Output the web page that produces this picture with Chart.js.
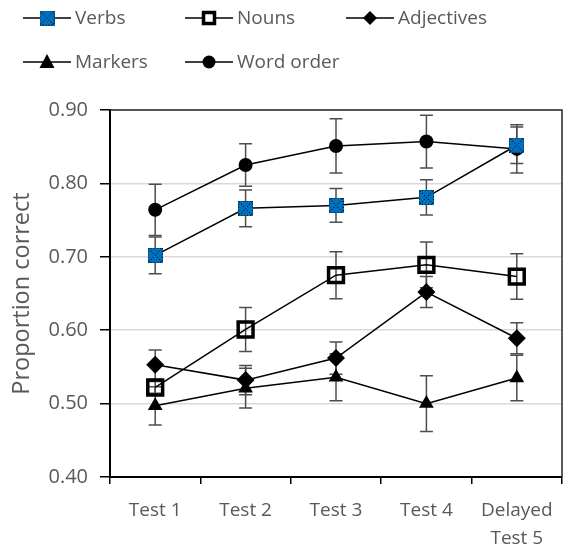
<!DOCTYPE html>
<html>
<head>
<meta charset="utf-8">
<script src="https://cdn.jsdelivr.net/npm/chart.js@4/dist/chart.umd.min.js"></script>
<style>
  html, body { margin: 0; padding: 0; background: #fff; }
  #wrap { width: 576px; height: 548px; position: relative; }
</style>
</head>
<body>
<div id="wrap"><canvas id="chart"></canvas></div>
<script>
const labels = ['Test 1', 'Test 2', 'Test 3', 'Test 4', ['Delayed', 'Test 5']];

const verbs = [0.702, 0.766, 0.770, 0.781, 0.852];
const verbsErr = [0.025, 0.025, 0.023, 0.024, 0.025];
const nouns = [0.522, 0.601, 0.675, 0.689, 0.673];
const nounsErr = [0.008, 0.030, 0.032, 0.031, 0.031];
const adjectives = [0.553, 0.532, 0.562, 0.652, 0.589];
const adjectivesErr = [0.020, 0.020, 0.022, 0.021, 0.021];
const markers = [0.497, 0.521, 0.536, 0.500, 0.535];
const markersErr = [0.026, 0.027, 0.032, 0.038, 0.031];
const wordOrder = [0.764, 0.825, 0.851, 0.857, 0.847];
const wordOrderErr = [0.035, 0.029, 0.037, 0.036, 0.033];

const FONT = "'Open Sans', sans-serif";
const GREY = '#595959';

// blue square with the dotted pattern used for Verbs
function verbsImage(size) {
    const c = document.createElement('canvas');
    c.width = size; c.height = size;
    const g = c.getContext('2d');
    g.fillStyle = '#0070C0';
    g.fillRect(0, 0, size, size);
    g.fillStyle = '#111';
    for (let i = 1; i < size - 1; i += 2) {
        g.fillRect(i, i, 1, 1);
        g.fillRect(size - 1 - i, i, 1, 1);
    }
    for (let i = 0; i < size; i += 3) {
        g.fillRect(i, 0, 1, 1);
        g.fillRect(i, size - 1, 1, 1);
        g.fillRect(0, i, 1, 1);
        g.fillRect(size - 1, i, 1, 1);
    }
    return c;
}
const verbsPoint = verbsImage(15);
const verbsLegend = verbsImage(15);

const errors = [verbsErr, nounsErr, adjectivesErr, markersErr, wordOrderErr];

// error bars, drawn under the markers
const errorBars = {
    id: 'errorBars',
    beforeDatasetsDraw(chart) {
        const ctx = chart.ctx;
        const y = chart.scales.y;
        ctx.save();
        ctx.strokeStyle = '#4d4d4d';
        ctx.lineWidth = 1.5;
        chart.data.datasets.forEach((ds, i) => {
            const meta = chart.getDatasetMeta(i);
            meta.data.forEach((pt, j) => {
                const v = ds.data[j], e = errors[i][j];
                const top = y.getPixelForValue(v + e);
                const bot = y.getPixelForValue(v - e);
                ctx.beginPath();
                ctx.moveTo(pt.x, top); ctx.lineTo(pt.x, bot);
                ctx.moveTo(pt.x - 6.5, top); ctx.lineTo(pt.x + 6.5, top);
                ctx.moveTo(pt.x - 6.5, bot); ctx.lineTo(pt.x + 6.5, bot);
                ctx.stroke();
            });
        });
        ctx.restore();
    }
};

// top and right edges of the plot box
const plotBorder = {
    id: 'plotBorder',
    afterDatasetsDraw(chart) {
        const a = chart.chartArea;
        const ctx = chart.ctx;
        ctx.save();
        ctx.strokeStyle = '#262626';
        ctx.lineWidth = 1.5;
        ctx.beginPath();
        ctx.moveTo(a.left, a.top);
        ctx.lineTo(a.right, a.top);
        ctx.lineTo(a.right, a.bottom);
        ctx.stroke();
        ctx.restore();
    }
};

function drawSymbol(ctx, style, x, y) {
    ctx.fillStyle = '#000';
    ctx.strokeStyle = '#000';
    ctx.beginPath();
    if (style === 'verbs') {
        ctx.drawImage(verbsLegend, x - 7.5, y - 7.5);
        return;
    } else if (style === 'nouns') {
        ctx.fillStyle = '#fff';
        ctx.lineWidth = 3.5;
        ctx.rect(x - 5.5, y - 5.5, 11, 11);
        ctx.fill(); ctx.stroke();
        return;
    } else if (style === 'diamond') {
        ctx.moveTo(x, y - 7); ctx.lineTo(x + 7, y); ctx.lineTo(x, y + 7); ctx.lineTo(x - 7, y);
    } else if (style === 'triangle') {
        ctx.moveTo(x, y - 8); ctx.lineTo(x + 7.5, y + 6); ctx.lineTo(x - 7.5, y + 6);
    } else {
        ctx.arc(x, y, 6.5, 0, Math.PI * 2);
    }
    ctx.closePath();
    ctx.fill();
}

const legendItems = [
    { text: 'Verbs', style: 'verbs', x: 23, y: 18 },
    { text: 'Nouns', style: 'nouns', x: 185, y: 18 },
    { text: 'Adjectives', style: 'diamond', x: 346, y: 18 },
    { text: 'Markers', style: 'triangle', x: 23, y: 62 },
    { text: 'Word order', style: 'circle', x: 185, y: 62 }
];

const customLegend = {
    id: 'customLegend',
    afterDraw(chart) {
        const ctx = chart.ctx;
        ctx.save();
        legendItems.forEach(it => {
            ctx.strokeStyle = '#000';
            ctx.lineWidth = 1.5;
            ctx.beginPath();
            ctx.moveTo(it.x, it.y); ctx.lineTo(it.x + 48, it.y);
            ctx.stroke();
            drawSymbol(ctx, it.style, it.x + 24, it.y);
            ctx.fillStyle = GREY;
            ctx.font = '19px ' + FONT;
            ctx.textBaseline = 'middle';
            ctx.textAlign = 'left';
            ctx.fillText(it.text, it.x + 52, it.y + 1);
        });
        ctx.restore();
    }
};

const common = {
    borderColor: '#000',
    borderWidth: 1.5,
    fill: false,
    tension: 0,
    pointBorderColor: '#000',
    pointBackgroundColor: '#000'
};

new Chart(document.getElementById('chart'), {
    type: 'line',
    data: {
        labels: labels,
        datasets: [
            Object.assign({}, common, { label: 'Verbs', data: verbs, pointStyle: verbsPoint }),
            Object.assign({}, common, { label: 'Nouns', data: nouns, pointStyle: 'rect', pointRadius: 10.5, pointBorderWidth: 3.5, pointBackgroundColor: 'rgba(0,0,0,0)' }),
            Object.assign({}, common, { label: 'Adjectives', data: adjectives, pointStyle: 'rectRot', pointRadius: 9, pointBorderWidth: 0 }),
            Object.assign({}, common, { label: 'Markers', data: markers, pointStyle: 'triangle', pointRadius: 8.5, pointBorderWidth: 0 }),
            Object.assign({}, common, { label: 'Word order', data: wordOrder, pointStyle: 'circle', pointRadius: 7, pointBorderWidth: 0 })
        ]
    },
    options: {
        responsive: true,
        maintainAspectRatio: false,
        animation: false,
        layout: { padding: { top: 110, right: 9, left: 0, bottom: 0 } },
        plugins: {
            legend: { display: false },
            tooltip: { enabled: false }
        },
        scales: {
            x: {
                offset: true,
                grid: { offset: true, drawOnChartArea: false, tickLength: 7, tickColor: '#000', lineWidth: 1.5 },
                border: { color: '#000', width: 2 },
                ticks: { color: GREY, font: { family: FONT, size: 19, lineHeight: 1.47 }, padding: 13, maxRotation: 0, autoSkip: false },
                afterFit: s => { s.height = 71; }
            },
            y: {
                min: 0.4,
                max: 0.9,
                ticks: { stepSize: 0.1, color: GREY, font: { family: FONT, size: 20 }, padding: 12, callback: v => v.toFixed(2) },
                grid: { color: '#d9d9d9', lineWidth: 1.5, tickLength: 10, tickColor: '#000' },
                border: { color: '#000', width: 2 },
                title: { display: true, text: 'Proportion correct', color: GREY, font: { family: FONT, size: 23.5 }, padding: { top: 8, bottom: 0 } },
                afterFit: s => { s.width = 110; }
            }
        }
    },
    plugins: [errorBars, plotBorder, customLegend]
});
</script>
</body>
</html>
